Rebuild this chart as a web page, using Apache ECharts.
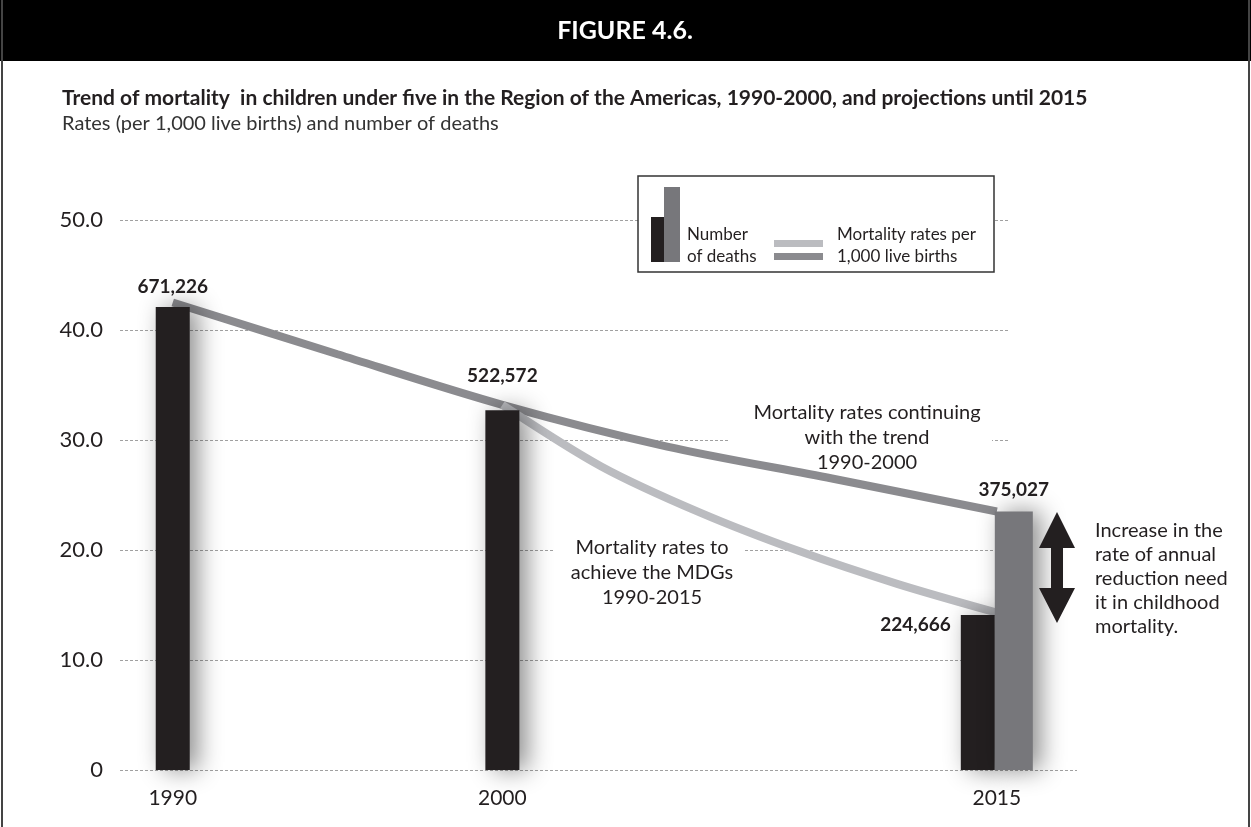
<!DOCTYPE html>
<html>
<head>
<meta charset="utf-8">
<script src="https://cdn.jsdelivr.net/npm/echarts@6/dist/echarts.min.js"></script>
<style>
    html, body { margin: 0; padding: 0; background: #fff; }
    #chart { width: 1251px; height: 827px; }
</style>
</head>
<body>
<div id="chart"></div>
<script>
// 死亡人数 (drawn on the rate scale, labelled with the counts)
const deathYears = [1990, 2000];
const deathBars = [42.1, 32.7];
const deathLabels = ["671,226", "522,572"];
const projYear = [2015];
const projMdgBar = [14.1];
const projMdgLabel = ["224,666"];
const projTrendBar = [23.5];
const projTrendLabel = ["375,027"];

// 死亡率 per 1,000 live births
const trendYears = [1990, 1995, 2000, 2005, 2010, 2015];
const trendRates = [42.5, 37.8, 33.2, 29.4, 26.5, 23.5];
const mdgYears = [2000, 2003, 2006, 2009, 2012, 2015];
const mdgRates = [33.2, 27.6, 23.4, 19.9, 16.9, 14.3];

const xTicks = [1990, 2000, 2015];

const FONT = "Lato, 'Open Sans', sans-serif";
const INK = "#231f20";
const BLACK = "#231f20";
const GRAY = "#77777b";
const DARK_LINE = "#8b8b8f";
const LIGHT_LINE = "#bbbcc0";

const chart = echarts.init(document.getElementById("chart"));

const pairs = (xs, ys) => xs.map((x, i) => [x, ys[i]]);

const barShadow = {
    shadowColor: "rgba(0,0,0,0.45)",
    shadowBlur: 24,
    shadowOffsetX: 8,
};

const labelBold = {
    show: true,
    color: INK,
    fontFamily: FONT,
    fontWeight: "bold",
    fontSize: 19,
};

const xAxisBase = {
    type: "value",
    min: 1988.4,
    max: 2015.4,
    splitLine: { show: false },
    axisLine: { show: false },
    axisTick: { show: false },
};

const option = {
    backgroundColor: "#fff",
    animation: false,
    title: {
        left: 57,
        top: 83,
        text: "Trend of mortality  in children under five in the Region of the Americas, 1990-2000, and projections until 2015",
        subtext: "Rates (per 1,000 live births) and number of deaths",
        itemGap: 5,
        textStyle: { fontFamily: FONT, fontWeight: "bold", fontSize: 21, color: INK },
        subtextStyle: { fontFamily: FONT, fontSize: 20, color: "#333" },
    },
    grid: { left: 120, right: 241, top: 220, bottom: 57 },
    xAxis: [
        Object.assign({}, xAxisBase, {
            axisLabel: {
                customValues: xTicks,
                color: INK,
                fontFamily: FONT,
                fontSize: 21,
                margin: 18,
                formatter: (v) => String(v),
            },
        }),
        Object.assign({}, xAxisBase, { show: false }),
    ],
    yAxis: {
        type: "value",
        min: 0,
        max: 50,
        interval: 10,
        axisLine: { show: false },
        axisTick: { show: false },
        splitLine: { lineStyle: { color: "#a0a0a0", type: [3, 2], width: 1 } },
        axisLabel: {
            color: INK,
            fontFamily: FONT,
            fontSize: 22,
            margin: 17,
            formatter: (v) => (v === 0 ? "0" : v.toFixed(1)),
        },
    },
    series: [
        {
            name: "trend",
            type: "line",
            xAxisIndex: 0,
            data: pairs(trendYears, trendRates),
            smooth: 0.3,
            symbol: "none",
            z: 3,
            lineStyle: { color: DARK_LINE, width: 8 },
        },
        {
            name: "mdg",
            type: "line",
            xAxisIndex: 0,
            data: pairs(mdgYears, mdgRates),
            smooth: 0.3,
            symbol: "none",
            z: 3,
            lineStyle: { color: LIGHT_LINE, width: 8 },
        },
        {
            name: "deaths",
            type: "bar",
            xAxisIndex: 0,
            barWidth: 34,
            z: 4,
            data: deathYears.map((y, i) => ({
                value: [y, deathBars[i]],
                label: Object.assign({}, labelBold, {
                    position: "top",
                    distance: i === 0 ? 11 : 25,
                    formatter: deathLabels[i],
                }),
            })),
            itemStyle: Object.assign({ color: BLACK }, barShadow),
        },
        {
            name: "deaths MDG 2015",
            type: "bar",
            xAxisIndex: 1,
            barWidth: 34,
            barGap: "0%",
            z: 4,
            data: projYear.map((y, i) => ({
                value: [y, projMdgBar[i]],
                label: Object.assign({}, labelBold, {
                    position: [-10, 10],
                    align: "right",
                    verticalAlign: "middle",
                    formatter: projMdgLabel[i],
                }),
            })),
            itemStyle: Object.assign({ color: BLACK }, barShadow),
        },
        {
            name: "deaths trend 2015",
            type: "bar",
            xAxisIndex: 1,
            barWidth: 38,
            barGap: "0%",
            z: 4,
            data: projYear.map((y, i) => ({
                value: [y, projTrendBar[i]],
                label: Object.assign({}, labelBold, {
                    position: "top",
                    distance: 12,
                    formatter: projTrendLabel[i],
                }),
            })),
            itemStyle: Object.assign({ color: GRAY }, barShadow),
        },
    ],
    graphic: [
        // header
        { type: "rect", z: 10, shape: { x: 0, y: 0, width: 1251, height: 61 }, style: { fill: "#000" } },
        {
            type: "text", z: 11,
            style: { text: "FIGURE 4.6.", x: 625, y: 31, align: "center", verticalAlign: "middle",
                font: "bold 25px " + FONT, fill: "#fff" },
        },
        // frame
        { type: "line", z: 10, shape: { x1: 2, y1: 0, x2: 2, y2: 827 }, style: { stroke: "#444", lineWidth: 2 } },
        { type: "line", z: 10, shape: { x1: 1249, y1: 0, x2: 1249, y2: 827 }, style: { stroke: "#444", lineWidth: 2 } },
        // zero line extension
        { type: "line", z: 1, shape: { x1: 1010, y1: 770.5, x2: 1077, y2: 770.5 },
            style: { stroke: "#a0a0a0", lineWidth: 1, lineDash: [3, 2] } },
        // legend
        { type: "rect", z: 10, shape: { x: 638, y: 176, width: 356, height: 96 },
            style: { fill: "#fff", stroke: "#333", lineWidth: 1.5 } },
        { type: "rect", z: 11, shape: { x: 651, y: 217, width: 13, height: 45 }, style: { fill: BLACK } },
        { type: "rect", z: 11, shape: { x: 664, y: 187, width: 16, height: 75 }, style: { fill: GRAY } },
        {
            type: "text", z: 11,
            style: { text: "Number\nof deaths", x: 687, y: 224, lineHeight: 22,
                font: "17px " + FONT, fill: INK },
        },
        { type: "rect", z: 11, shape: { x: 774, y: 240, width: 49, height: 7 }, style: { fill: LIGHT_LINE } },
        { type: "rect", z: 11, shape: { x: 774, y: 253, width: 49, height: 7 }, style: { fill: DARK_LINE } },
        {
            type: "text", z: 11,
            style: { text: "Mortality rates per\n1,000 live births", x: 837, y: 224, lineHeight: 22,
                font: "17px " + FONT, fill: INK },
        },
        // annotations
        { type: "rect", z: 1, shape: { x: 555, y: 528, width: 190, height: 84 }, style: { fill: "#fff" } },
        {
            type: "text", z: 5,
            style: { text: "Mortality rates to\nachieve the MDGs\n1990-2015", x: 652, y: 535,
                align: "center", lineHeight: 25, font: "20px " + FONT, fill: INK },
        },
        { type: "rect", z: 1, shape: { x: 730, y: 398, width: 262, height: 76 }, style: { fill: "#fff" } },
        {
            type: "text", z: 5,
            style: { text: "Mortality rates continuing\nwith the trend\n1990-2000", x: 867, y: 400,
                align: "center", lineHeight: 25, font: "20px " + FONT, fill: INK },
        },
        {
            type: "polygon", z: 5,
            shape: {
                points: [
                    [1057, 512], [1075, 548], [1063, 548], [1063, 588], [1075, 588],
                    [1057, 623], [1039, 588], [1051, 588], [1051, 548], [1039, 548],
                ],
            },
            style: { fill: BLACK },
        },
        {
            type: "text", z: 5,
            style: { text: "Increase in the\nrate of annual\nreduction need\nit in childhood\nmortality.",
                x: 1095, y: 519, lineHeight: 24, font: "20px " + FONT, fill: INK },
        },
    ],
};

chart.setOption(option);
</script>
</body>
</html>
